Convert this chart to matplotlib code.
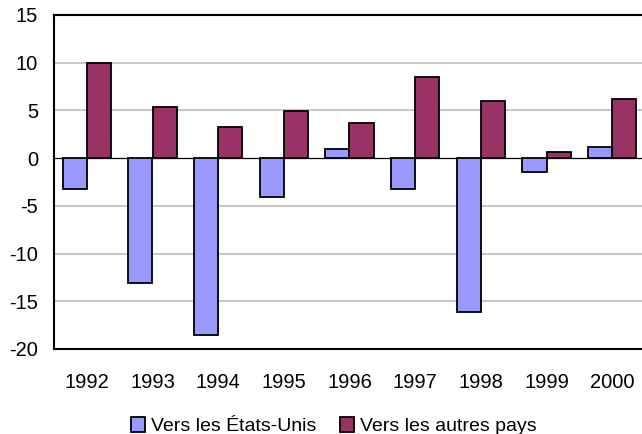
import matplotlib
matplotlib.use('Agg')
import matplotlib.pyplot as plt
import numpy as np

plt.rcParams['font.family'] = ['Liberation Sans', 'DejaVu Sans']

years = ['1992', '1993', '1994', '1995', '1996', '1997', '1998', '1999', '2000']
vers_usa = [-3.25, -13.1, -18.55, -4.1, 0.95, -3.25, -16.1, -1.45, 1.15]
vers_autres = [10.0, 5.35, 3.25, 4.95, 3.65, 8.5, 6.0, 0.65, 6.2]
y_ticks = [15, 10, 5, 0, -5, -10, -15, -20]

fig = plt.figure(figsize=(6.42, 4.34), dpi=100)
# axes right edge sits just beyond the image, as in the reference
ax = fig.add_axes([54 / 642, (434 - 349) / 434, (645 - 54) / 642, (349 - 15) / 434])

x = np.arange(len(years))
w = 0.37
ax.bar(x - w / 2, vers_usa, w, color='#9999ff', edgecolor='black', linewidth=1.3,
       label='Vers les États-Unis', zorder=3)
ax.bar(x + w / 2, vers_autres, w, color='#993366', edgecolor='black', linewidth=1.3,
       label='Vers les autres pays', zorder=3)

ax.set_xlim(-0.5, len(years) - 0.5)
ax.set_ylim(-20, 15)
ax.set_yticks(y_ticks)
ax.set_yticklabels([str(v) for v in y_ticks])
ax.set_xticks(x)
ax.set_xticklabels(years)
ax.tick_params(axis='both', length=0, labelsize=14.5)
ax.tick_params(axis='y', pad=11.5)
ax.tick_params(axis='x', pad=17)

for v in y_ticks:
    if v in (15, -20):
        continue
    if v == 0:
        ax.axhline(0, color='black', linewidth=0.9, zorder=2)
    else:
        ax.axhline(v, color='#c8c8c8', linewidth=1.5, zorder=1)

for s in ('top', 'left', 'bottom', 'right'):
    ax.spines[s].set_linewidth(1.5)
    ax.spines[s].set_color('black')

fig.legend(loc='lower center', bbox_to_anchor=(0.52, -0.03), ncol=2, frameon=False,
           fontsize=14, handlelength=0.75, handleheight=0.75, handletextpad=0.3,
           columnspacing=1.2, borderaxespad=0.2)

fig.savefig('out.png', dpi=100)
